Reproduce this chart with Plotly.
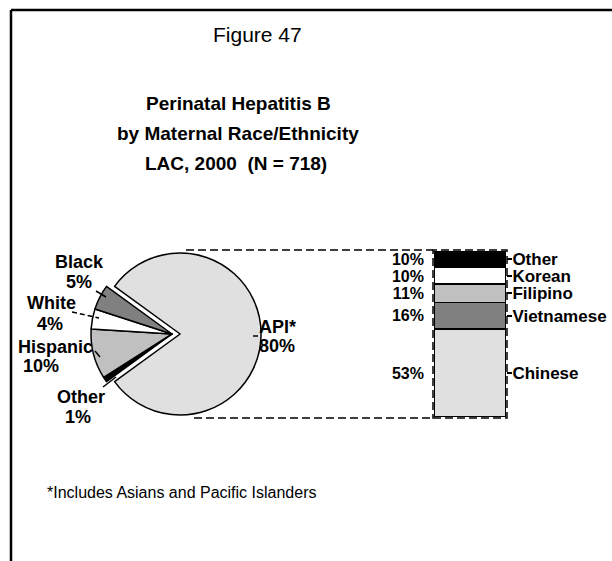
import plotly.graph_objects as go

# ---------------- data ----------------
pie_labels = ["API*", "Other", "Hispanic", "White", "Black"]
pie_values = [80, 1, 10, 4, 5]
pie_colors = ["#e0e0e0", "#000000", "#c0c0c0", "#ffffff", "#808080"]

bar_labels = ["Chinese", "Vietnamese", "Filipino", "Korean", "Other"]
bar_values = [53, 16, 11, 10, 10]
bar_colors = ["#e0e0e0", "#808080", "#c0c0c0", "#ffffff", "#000000"]

W, H = 612, 561
FONT = "Liberation Sans, Arial, sans-serif"


def px(x):
    return x / W


def py(y):
    return 1 - y / H


fig = go.Figure()

# ---------------- pie ----------------
pull = 0.1
r = 81
cx, cy = 172, 334
half = r * (1 + pull)
fig.add_trace(go.Pie(
    labels=pie_labels, values=pie_values, sort=False,
    direction="clockwise", rotation=-54,
    pull=[pull, 0, 0, 0, 0],
    marker=dict(colors=pie_colors, line=dict(color="black", width=1.5)),
    textinfo="none", textposition="none", hoverinfo="label+percent",
    domain=dict(x=[px(cx - half), px(cx + half)], y=[py(cy + half), py(cy - half)]),
    showlegend=False,
))

# ---------------- stacked bar ----------------
for lab, val, col in zip(bar_labels, bar_values, bar_colors):
    fig.add_trace(go.Bar(
        x=[0], y=[val], name=lab, width=1,
        marker=dict(color=col, line=dict(color="black", width=1.5)),
        showlegend=False, hoverinfo="name+y",
    ))

mids = []
acc = 0
for v in bar_values:
    mids.append(acc + v / 2)
    acc += v
pct_text = [f"{v}%" for v in bar_values]

bar_left, bar_right = 434, 506
bar_top, bar_bot = 251, 417
tickfont = dict(family=FONT, size=16, color="black", weight="bold")

fig.update_layout(
    width=W, height=H, margin=dict(l=0, r=0, t=0, b=0),
    paper_bgcolor="white", plot_bgcolor="rgba(0,0,0,0)",
    barmode="stack", showlegend=False,
    xaxis=dict(domain=[px(bar_left), px(bar_right)], range=[-0.5, 0.5], visible=False, fixedrange=True),
    yaxis=dict(domain=[py(bar_bot), py(bar_top)], range=[0, 100], side="right",
               tickmode="array", tickvals=mids, ticktext=bar_labels,
               ticks="outside", ticklen=5, tickwidth=1.5, tickcolor="black",
               tickfont=dict(family=FONT, size=17, color="black", weight="bold"),
               showgrid=False, zeroline=False, showline=False,
               ticklabelstandoff=-3),
    yaxis2=dict(overlaying="y", anchor="x", side="left", range=[0, 100],
                tickmode="array", tickvals=mids, ticktext=pct_text,
                ticks="", tickfont=tickfont, showgrid=False, zeroline=False,
                showline=False, ticklabelstandoff=9),
)
# invisible trace to activate yaxis2
fig.add_trace(go.Scatter(x=[0], y=[0], yaxis="y2", mode="markers",
                         marker=dict(opacity=0), showlegend=False, hoverinfo="skip"))

DASH = "8px,4px"
shapes = []


def pline(x0, y0, x1, y1, dash="solid", width=1.5):
    shapes.append(dict(type="line", xref="paper", yref="paper", x0=px(x0), x1=px(x1),
                       y0=py(y0), y1=py(y1), line=dict(color="black", width=width, dash=dash)))


# frame
pline(11, 10, 612, 10, width=2.5)
pline(11, 10, 11, 561, width=2.5)
# dashed box around bar
shapes.append(dict(type="rect", xref="paper", yref="paper",
                   x0=px(bar_left - 1), x1=px(bar_right + 1), y0=py(bar_bot + 1), y1=py(bar_top - 1),
                   line=dict(color="black", width=1.5, dash=DASH)))
# connector lines
pline(186, bar_top - 1, bar_left - 1, bar_top - 1, dash=DASH)
pline(194, bar_bot + 1, bar_left - 1, bar_bot + 1, dash=DASH)
# leader lines
pline(96, 291, 106, 297)
pline(72, 312, 99, 318, dash="5px,3px")
pline(95, 351, 100, 357)
pline(103, 387, 116, 377)
pline(253, 336, 258, 336)
fig.update_layout(shapes=shapes)

lab_font = dict(family=FONT, size=18, color="black", weight="bold")
ann = []


def add(text, x, y, xanchor="center", font=lab_font):
    ann.append(dict(text=text, x=px(x), y=py(y), xref="paper", yref="paper",
                    xanchor=xanchor, yanchor="middle", showarrow=False, font=font))


add("Black", 79, 262)
add("5%", 79, 282)
add("White", 51, 303)
add("4%", 50, 324)
add("Hispanic", 55, 347)
add("10%", 41, 366)
add("Other", 81, 397)
add("1%", 78, 417)
add("API*", 257, 327, xanchor="left")
add("80%", 257, 346, xanchor="left")

add("Figure 47", 257, 35, font=dict(family=FONT, size=21, color="black"))
tfont = dict(family=FONT, size=19, color="black", weight="bold")
add("Perinatal Hepatitis B", 238, 103, font=tfont)
add("by Maternal Race/Ethnicity", 238, 133, font=tfont)
add("LAC, 2000  (N = 718)", 236, 163, font=tfont)
add("*Includes Asians and Pacific Islanders", 45, 492, xanchor="left",
    font=dict(family=FONT, size=16, color="black"))

fig.update_layout(annotations=ann)
fig.write_html("out.html", config={"displayModeBar": False},
               post_script="document.body.style.margin='0';")
